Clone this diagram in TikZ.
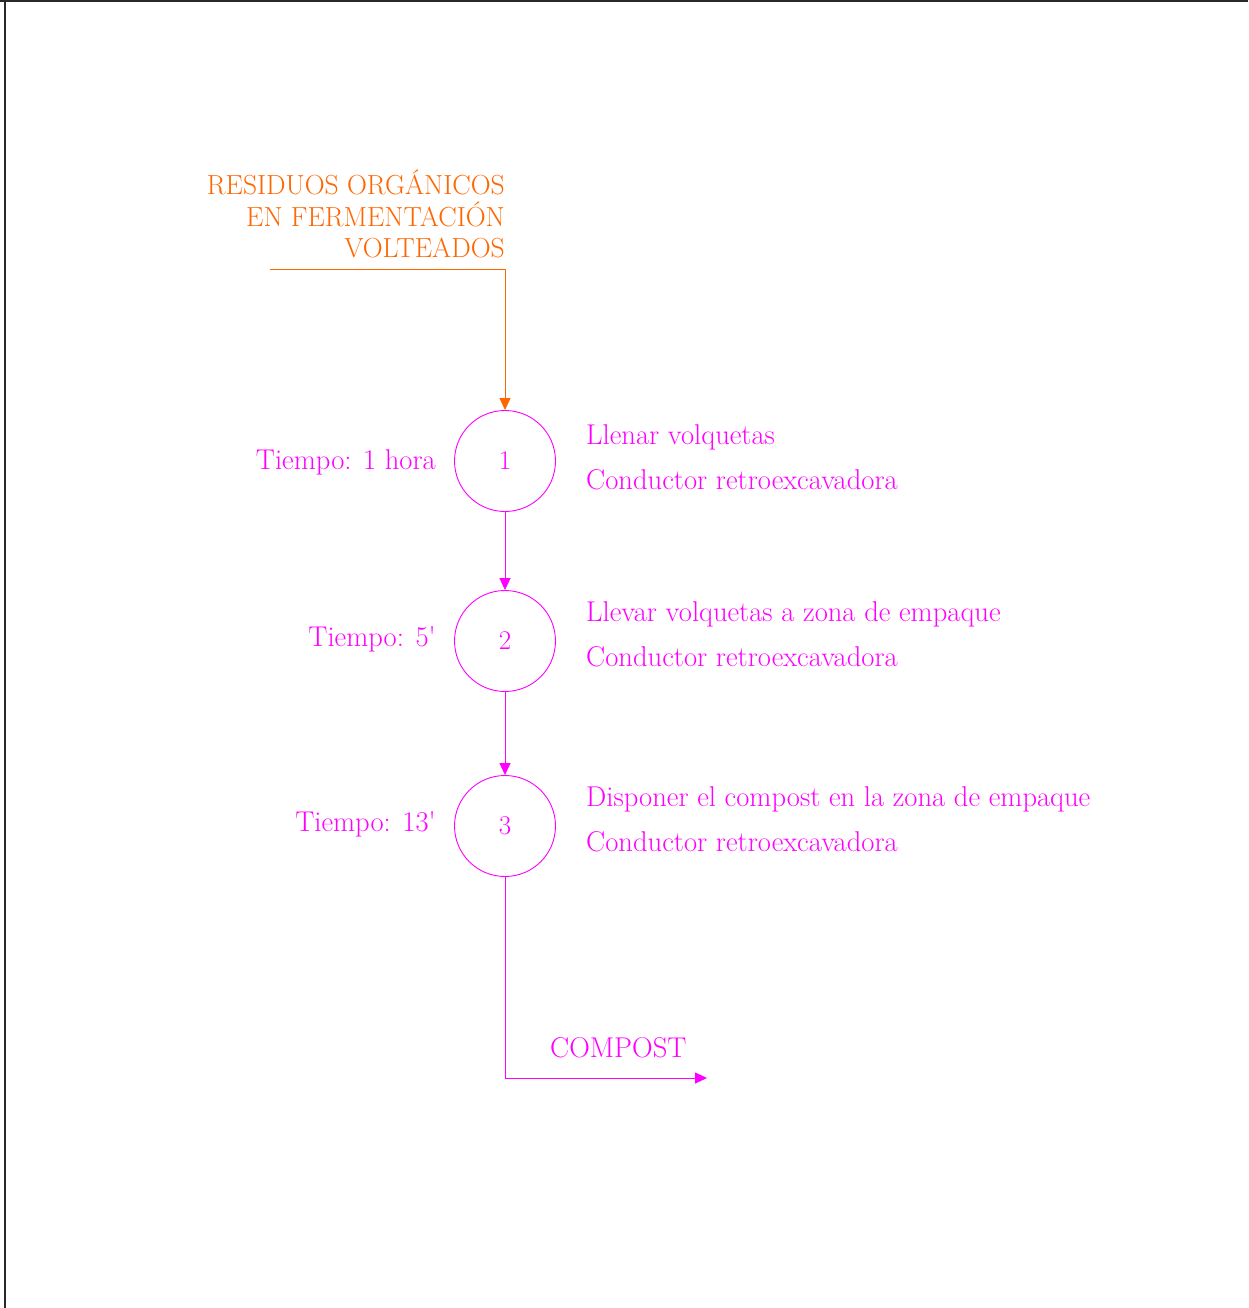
\documentclass[tikz,border=0pt]{standalone}
\usepackage{fontspec}
\usetikzlibrary{arrows.meta}
\definecolor{flujo}{RGB}{255,0,255}
\definecolor{entrada}{RGB}{255,102,0}
\definecolor{marco}{RGB}{40,40,40}
\tikzset{
  paso/.style={circle, draw=flujo, line width=0.9pt, minimum size=101pt, inner sep=0pt, text=flujo, font=\fontsize{27}{30}\selectfont},
  texto/.style={text=flujo, inner sep=0pt, font=\fontsize{28.6}{32}\selectfont},
  textoent/.style={text=entrada, inner sep=0pt, font=\fontsize{27.6}{30}\selectfont},
  flecha/.style={draw=flujo, line width=0.9pt, -{Triangle[length=12pt,width=11pt]}},
  flechaent/.style={draw=entrada, line width=0.9pt, -{Triangle[length=12pt,width=11pt]}}
}
\begin{document}
\begin{tikzpicture}[x=1pt, y=-1pt]
  \useasboundingbox (0,0) rectangle (1248,1308);
  % page frame
  \draw[marco, line width=1.5pt] (0,1) -- (1248,1);
  \draw[marco, line width=1.5pt] (5,1) -- (5,1308);
  \draw[marco, line width=1pt] (358,0) -- (358,2);

  % operations
  \node[paso] (p1) at (505,461) {1};
  \node[paso] (p2) at (505,641) {2};
  \node[paso] (p3) at (505,826) {3};

  % input material
  \node[textoent, anchor=base east] (e1) at (505,194) {RESIDUOS ORGÁNICOS};
  \node[textoent, anchor=base east] (e2) at (505,226) {EN FERMENTACIÓN};
  \node[textoent, anchor=base east] (e3) at (505,257) {VOLTEADOS};
  \coordinate (ini) at (270,269);
  \coordinate (esq) at (505,269);
  \draw[flechaent] (ini) -- (esq) -- (p1.north);

  % times
  \node[texto, anchor=base east] (t1) at (436,469) {Tiempo: 1 hora};
  \node[texto, anchor=base east] (t2) at (436,646) {Tiempo: 5\textquotesingle};
  \node[texto, anchor=base east] (t3) at (436,831) {Tiempo: 13\textquotesingle};

  % descriptions
  \node[texto, anchor=base west] (d1) at (586,444) {Llenar volquetas};
  \node[texto, anchor=base west] (r1) at (586,489) {Conductor retroexcavadora};
  \node[texto, anchor=base west] (d2) at (586,621) {Llevar volquetas a zona de empaque};
  \node[texto, anchor=base west] (r2) at (586,666) {Conductor retroexcavadora};
  \node[texto, anchor=base west] (d3) at (586,806) {Disponer el compost en la zona de empaque};
  \node[texto, anchor=base west] (r3) at (586,851) {Conductor retroexcavadora};

  % flow
  \draw[flecha] (p1) -- (p2);
  \draw[flecha] (p2) -- (p3);

  % output
  \coordinate (baja) at (505,1078);
  \coordinate (fin) at (707,1078);
  \draw[flecha] (p3.south) -- (baja) -- (fin);
  \node[texto, anchor=base west] (salida) at (550,1057) {COMPOST};
\end{tikzpicture}
\end{document}
